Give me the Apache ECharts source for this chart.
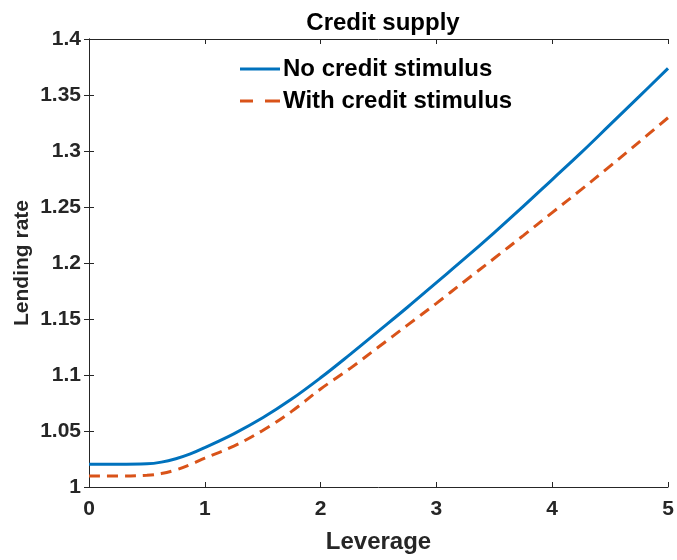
<!DOCTYPE html>
<html>
<head>
<meta charset="utf-8">
<script src="https://cdn.jsdelivr.net/npm/echarts@6/dist/echarts.min.js"></script>
<style>
  html, body { margin: 0; padding: 0; background: #fff; }
  #chart { width: 677px; height: 560px; }
</style>
</head>
<body>
<div id="chart"></div>
<script>
// leverage grid (finer where the curves bend)
var leverage = [0, 0.25, 0.5, 0.625, 0.75, 0.875, 1, 1.25, 1.5, 1.75, 2, 2.25, 2.5,
  2.75, 3, 3.25, 3.5, 3.75, 4, 4.25, 4.5, 4.75, 5];
var noStimulus = [1.0203, 1.0203, 1.0207, 1.0222, 1.0252, 1.0295, 1.0352, 1.0475,
  1.0618, 1.0785, 1.0975, 1.118, 1.1392, 1.1605, 1.1825, 1.2045, 1.2272, 1.2505,
  1.2745, 1.2985, 1.3235, 1.3485, 1.3738];
var withStimulus = [1.0098, 1.0098, 1.0105, 1.012, 1.0152, 1.02, 1.0258, 1.0365,
  1.0505, 1.0675, 1.0875, 1.1055, 1.125, 1.1445, 1.164, 1.1842, 1.2042, 1.2245,
  1.245, 1.2655, 1.2865, 1.308, 1.3297];
var seriesNames = ["No credit stimulus", "With credit stimulus"];

var axisColor = "#262626";
var font = "Liberation Sans, Arial, sans-serif";

function pairs(xs, ys) {
  return xs.map(function (x, i) { return [x, ys[i]]; });
}

var myChart = echarts.init(document.getElementById("chart"));

var option = {
  animation: false,
  title: {
    text: "Credit supply",
    left: 378,
    top: 6,
    textAlign: "center",
    textStyle: { fontFamily: font, fontWeight: "bold", fontSize: 24, color: "#000" }
  },
  legend: {
    orient: "vertical",
    left: 235,
    top: 52,
    itemWidth: 40,
    itemHeight: 3,
    itemGap: 8,
    data: [
      { name: seriesNames[0], icon: "path://M0,0h40v3h-40z" },
      { name: seriesNames[1], icon: "path://M0,0h13v3h-13zM25,0h15v3h-15z" }
    ],
    textStyle: { fontFamily: font, fontWeight: "bold", fontSize: 24, color: "#000", padding: [0, 0, 0, -2] }
  },
  grid: { left: 89, right: 9, top: 39, bottom: 73 },
  xAxis: [
    {
      type: "value",
      min: 0,
      max: 5,
      interval: 1,
      name: "Leverage",
      nameLocation: "middle",
      nameGap: 43,
      nameMoveOverlap: false,
      nameTextStyle: { fontFamily: font, fontWeight: "bold", fontSize: 24, color: axisColor },
      axisLine: { lineStyle: { color: axisColor, width: 1 } },
      axisTick: { inside: true, length: 5, lineStyle: { color: axisColor } },
      axisLabel: { margin: 12, fontFamily: font, fontWeight: "bold", fontSize: 21, color: axisColor },
      splitLine: { show: false }
    },
    {
      type: "value",
      position: "top",
      min: 0,
      max: 5,
      interval: 1,
      axisLine: { lineStyle: { color: axisColor, width: 1 } },
      axisTick: { inside: true, length: 5, lineStyle: { color: axisColor } },
      axisLabel: { show: false },
      splitLine: { show: false }
    }
  ],
  yAxis: [
    {
      type: "value",
      min: 1,
      max: 1.4,
      interval: 0.05,
      name: "Lending rate",
      nameLocation: "middle",
      nameGap: 56,
      nameMoveOverlap: false,
      nameTextStyle: { fontFamily: font, fontWeight: "bold", fontSize: 21, color: axisColor },
      axisLine: { show: true, lineStyle: { color: axisColor, width: 1 } },
      axisTick: { show: true, inside: true, length: 5, lineStyle: { color: axisColor } },
      axisLabel: {
        margin: 8,
        fontFamily: font, fontWeight: "bold", fontSize: 21, color: axisColor,
        formatter: function (v) { return String(Math.round(v * 100) / 100); }
      },
      splitLine: { show: false }
    },
    {
      type: "value",
      position: "right",
      min: 1,
      max: 1.4,
      interval: 0.05,
      axisLine: { show: true, lineStyle: { color: axisColor, width: 1 } },
      axisTick: { show: true, inside: true, length: 5, lineStyle: { color: axisColor } },
      axisLabel: { show: false },
      splitLine: { show: false }
    }
  ],
  series: [
    {
      name: seriesNames[0],
      type: "line",
      smooth: 0.4,
      symbol: "none",
      data: pairs(leverage, noStimulus),
      lineStyle: { color: "#0072BD", width: 3 },
      itemStyle: { color: "#0072BD" }
    },
    {
      name: seriesNames[1],
      type: "line",
      smooth: 0.4,
      symbol: "none",
      data: pairs(leverage, withStimulus),
      lineStyle: { color: "#D95319", width: 3, type: [11, 7] },
      itemStyle: { color: "#D95319" }
    }
  ]
};

myChart.setOption(option);
</script>
</body>
</html>
